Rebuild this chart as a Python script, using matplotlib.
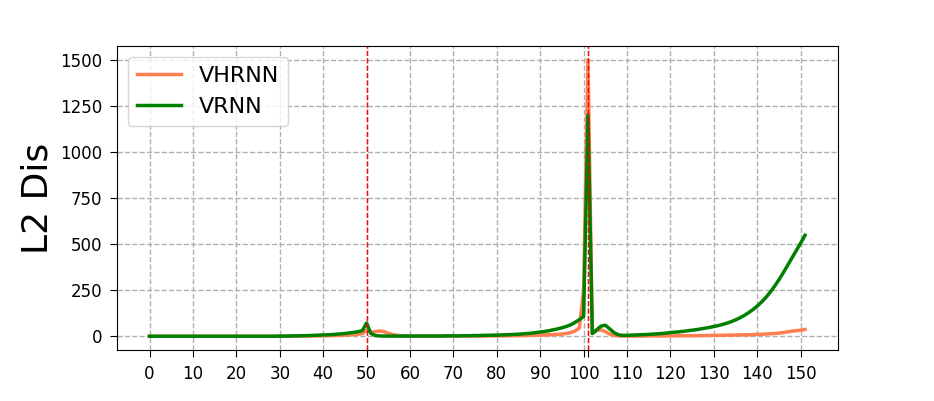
import matplotlib
matplotlib.use("Agg")
import matplotlib.pyplot as plt

vhrnn = (
    [0] * 30
    + [0, 0, 0, 1, 1, 1, 1, 2, 2, 2]
    + [3, 3, 4, 4, 5, 6, 7, 9, 11, 14]
    + [32, 22, 25, 29, 25, 16, 9, 5, 3, 2]
    + [1, 1, 1, 1, 1, 1, 1, 1, 1, 1]
    + [1, 1, 1, 1, 1, 1, 1, 1, 2, 2]
    + [2, 2, 2, 3, 3, 3, 4, 4, 5, 5]
    + [6, 7, 8, 9, 10, 12, 15, 20, 28, 45]
    + [250, 1500, 15, 30, 35, 25, 12, 5, 2, 1]
    + [1, 1, 1, 1, 1, 2, 2, 2, 2, 2]
    + [2, 2, 3, 3, 3, 3, 3, 4, 4, 4]
    + [5, 5, 5, 6, 6, 7, 7, 8, 8, 9]
    + [10, 11, 12, 14, 15, 17, 20, 24, 28, 30]
    + [33, 37]
)
vrnn = (
    [0] * 30
    + [1, 1, 1, 2, 2, 3, 3, 4, 5, 6]
    + [7, 8, 9, 11, 13, 15, 18, 21, 25, 30]
    + [72, 15, 4, 2, 1, 1, 1, 1, 1, 1]
    + [1, 1, 1, 1, 1, 1, 1, 1, 2, 2]
    + [2, 2, 3, 3, 3, 4, 4, 5, 5, 6]
    + [6, 7, 8, 9, 10, 11, 13, 15, 17, 20]
    + [23, 26, 30, 35, 40, 46, 53, 62, 75, 90]
    + [108, 1200, 15, 35, 55, 60, 40, 20, 8, 5]
    + [5, 6, 7, 8, 9, 10, 12, 13, 15, 17]
    + [20, 22, 24, 27, 30, 33, 36, 40, 44, 48]
    + [53, 58, 64, 71, 79, 89, 100, 113, 128, 145]
    + [164, 186, 211, 240, 272, 307, 345, 385, 425, 465]
    + [506, 548]
)
steps = list(range(len(vhrnn)))
event_steps = [50, 101]
xtick_vals = list(range(0, 151, 10))
ytick_vals = [0, 250, 500, 750, 1000, 1250, 1500]

fig = plt.figure(figsize=(9.34, 4.01), dpi=100)
ax = fig.add_axes([0.125, 0.127, 0.772, 0.758])

ax.plot(steps, vhrnn, color="coral", lw=2.5, label="VHRNN")
ax.plot(steps, vrnn, color="green", lw=2.5, label="VRNN")
for e in event_steps:
    ax.axvline(e, color="red", ls="--", lw=1.0)

ax.set_xticks(xtick_vals + [101])
ax.set_xticklabels([str(v) for v in xtick_vals] + [""])
ax.set_yticks(ytick_vals)
ax.tick_params(length=5, pad=5.5, labelsize=12)
ax.grid(True, ls="--", color="#b0b0b0", lw=1)
ax.set_axisbelow(True)
ax.set_ylabel("L2 Dis", fontsize=26)
ax.legend(loc="upper left", fontsize=16)

fig.savefig("out.png", dpi=100)
